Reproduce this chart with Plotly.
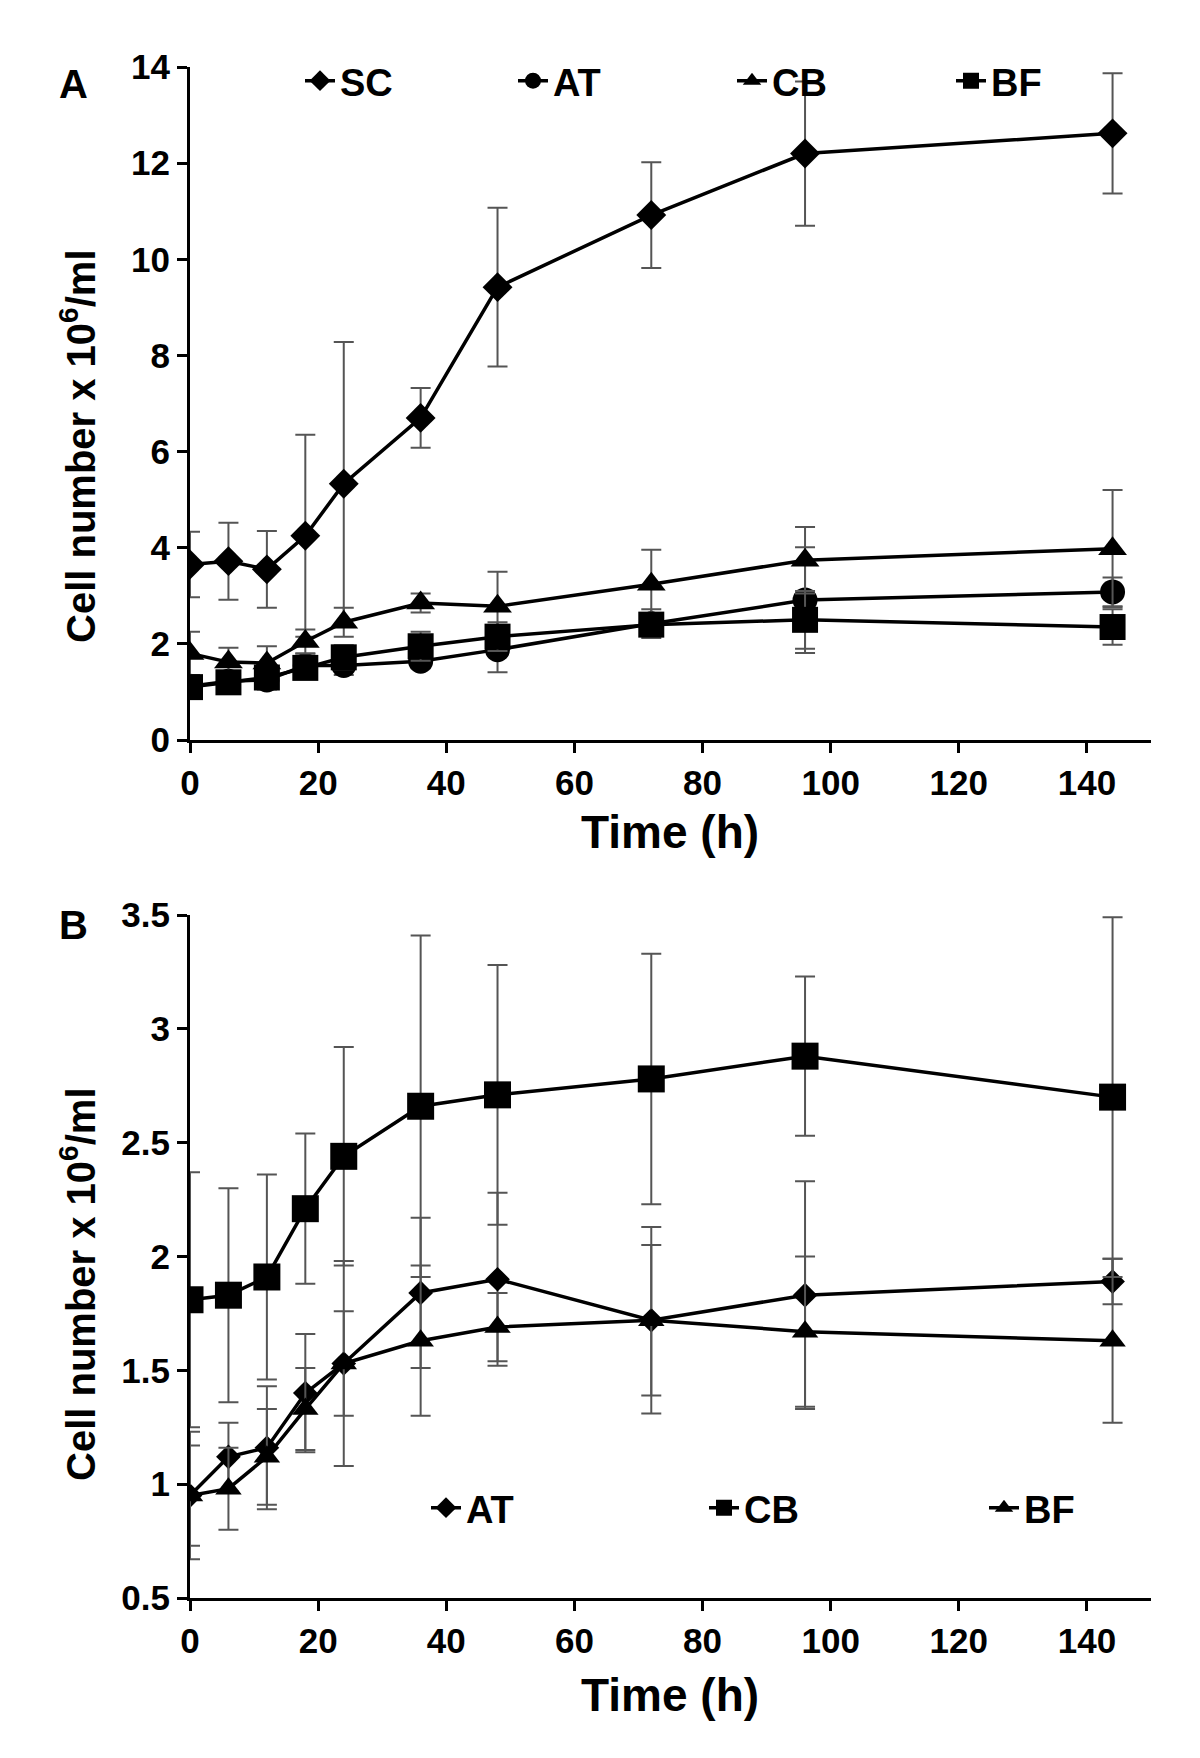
import plotly.graph_objects as go

# ---------------- data ----------------
time_h = [0, 6, 12, 18, 24, 36, 48, 72, 96, 144]

# Panel A
sc_a = [3.65, 3.72, 3.55, 4.25, 5.33, 6.70, 9.42, 10.92, 12.20, 12.62]
sc_a_err = [0.68, 0.80, 0.80, 2.10, 2.95, 0.62, 1.65, 1.10, 1.50, 1.25]
at_a = [1.12, 1.22, 1.25, 1.55, 1.55, 1.64, 1.88, 2.42, 2.91, 3.08]
at_a_err = [0.15, 0.20, 0.20, 0.25, 0.20, 0.15, 0.47, 0.30, 1.10, 0.30]
cb_a = [1.80, 1.62, 1.60, 2.05, 2.45, 2.85, 2.78, 3.24, 3.74, 3.98]
cb_a_err = [0.45, 0.30, 0.35, 0.25, 0.30, 0.20, 0.72, 0.72, 0.69, 1.22]
bf_a = [1.10, 1.20, 1.30, 1.50, 1.72, 1.95, 2.15, 2.40, 2.50, 2.35]
bf_a_err = [0.20, 0.20, 0.20, 0.20, 0.25, 0.30, 0.30, 0.20, 0.60, 0.37]

# Panel B
at_b = [0.95, 1.12, 1.16, 1.40, 1.53, 1.84, 1.90, 1.72, 1.83, 1.89]
at_b_err = [0.28, 0.15, 0.27, 0.26, 0.45, 0.33, 0.38, 0.41, 0.50, 0.10]
cb_b = [1.81, 1.83, 1.91, 2.21, 2.44, 2.66, 2.71, 2.78, 2.88, 2.70]
cb_b_err = [0.56, 0.47, 0.45, 0.33, 0.48, 0.75, 0.57, 0.55, 0.35, 0.79]
bf_b = [0.95, 0.98, 1.12, 1.33, 1.53, 1.63, 1.69, 1.72, 1.67, 1.63]
bf_b_err = [0.22, 0.18, 0.21, 0.18, 0.23, 0.33, 0.15, 0.33, 0.33, 0.36]

x_ticks = [0, 20, 40, 60, 80, 100, 120, 140]
ya_ticks = [0, 2, 4, 6, 8, 10, 12, 14]
yb_ticks = [0.5, 1, 1.5, 2, 2.5, 3, 3.5]

# ---------------- style ----------------
W, H = 1200, 1758
FONT = "Liberation Sans, Arial, sans-serif"
ERR = dict(type="data", visible=True, color="#555555", thickness=2, width=10)


def add(fig, y, err, name, symbol, size, xa, ya, legend):
    fig.add_trace(go.Scatter(
        x=time_h, y=y, name=name, mode="lines+markers",
        line=dict(color="black", width=3.5),
        marker=dict(symbol=symbol, size=size, color="black"),
        error_y=dict(array=err, **ERR),
        xaxis=xa, yaxis=ya, legend=legend,
    ))


fig = go.Figure()
add(fig, sc_a, sc_a_err, "SC", "diamond", 23, "x", "y", "legend")
add(fig, at_a, at_a_err, "AT", "circle", 25, "x", "y", "legend2")
add(fig, cb_a, cb_a_err, "CB", "triangle-up", 25, "x", "y", "legend3")
add(fig, bf_a, bf_a_err, "BF", "square", 26, "x", "y", "legend4")

add(fig, at_b, at_b_err, "AT", "diamond", 19, "x2", "y2", "legend5")
add(fig, cb_b, cb_b_err, "CB", "square", 27, "x2", "y2", "legend6")
add(fig, bf_b, bf_b_err, "BF", "triangle-up", 23, "x2", "y2", "legend7")

axis_common = dict(
    showline=True, linecolor="black", linewidth=3,
    ticks="outside", ticklen=10, tickwidth=3, tickcolor="black",
    showgrid=False, zeroline=False, automargin=False,
    tickfont=dict(family=FONT, size=35, color="black", weight="bold"),
)

xdom = [190 / W, 1151 / W]


def ydom(px_bottom, px_top):
    return [1 - px_bottom / H, 1 - px_top / H]


def leg(x_px, y_px):
    return dict(orientation="h", x=x_px / W, y=1 - y_px / H, xanchor="left",
                yanchor="middle", bgcolor="rgba(0,0,0,0)", itemsizing="trace",
                font=dict(family=FONT, size=38, color="black", weight="bold"))


def txt(text, x_px, y_px, size, angle=0):
    return dict(text=text, xref="paper", yref="paper", x=x_px / W, y=1 - y_px / H,
                showarrow=False, xanchor="center", yanchor="middle", textangle=angle,
                font=dict(family=FONT, size=size, color="black", weight="bold"))


ytitle = "Cell number x 10<sup>6</sup>/ml"

fig.update_layout(
    width=W, height=H,
    margin=dict(l=0, r=0, t=0, b=0, autoexpand=False),
    paper_bgcolor="white", plot_bgcolor="white",
    showlegend=True,
    xaxis=dict(domain=xdom, range=[0, 150], tickvals=x_ticks, anchor="y", **axis_common),
    yaxis=dict(domain=ydom(740, 67), range=[0, 14], tickvals=ya_ticks, anchor="x", **axis_common),
    xaxis2=dict(domain=xdom, range=[0, 150], tickvals=x_ticks, anchor="y2", **axis_common),
    yaxis2=dict(domain=ydom(1598, 915), range=[0.5, 3.5], tickvals=yb_ticks, anchor="x2", **axis_common),
    legend=leg(300, 81),
    legend2=leg(513, 81),
    legend3=leg(732, 81),
    legend4=leg(951, 81),
    legend5=leg(426, 1508),
    legend6=leg(704, 1508),
    legend7=leg(984, 1508),
    annotations=[
        txt("A", 73, 84, 40),
        txt("B", 73, 925, 40),
        txt("Time (h)", 670, 832, 46),
        txt("Time (h)", 670, 1695, 46),
        txt(ytitle, 78, 446, 40, -90),
        txt(ytitle, 78, 1284, 40, -90),
    ],
)

fig.write_html("out.html", config={"displayModeBar": False},
               post_script="document.body.style.margin='0';")
